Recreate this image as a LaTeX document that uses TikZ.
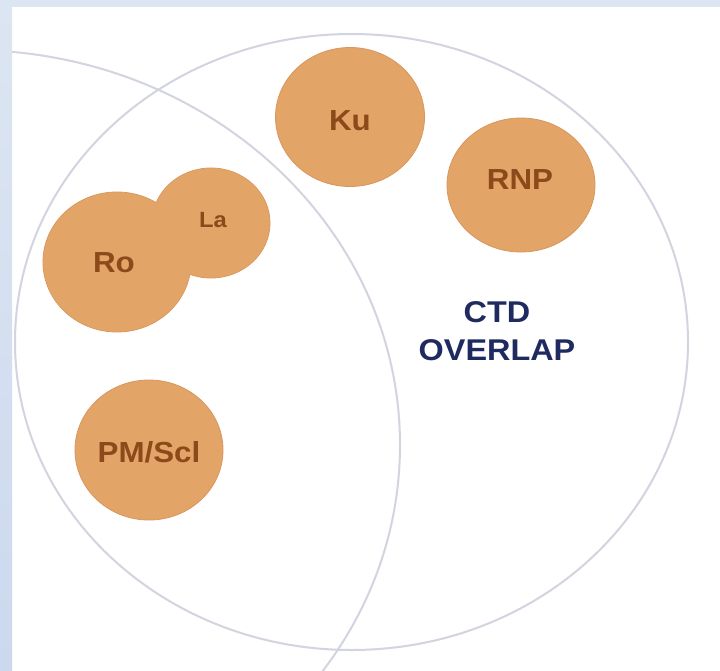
\documentclass[tikz,border=0pt]{standalone}
\usepackage{fontspec}
\setmainfont{Liberation Sans}[FakeStretch=1.08]
\usetikzlibrary{shapes.geometric}
\definecolor{bandblue}{HTML}{DCE6F2}
\definecolor{bandlow}{HTML}{CCD8EE}
\definecolor{ringgrey}{HTML}{D2D4DF}
\definecolor{blob}{HTML}{E3A468}
\definecolor{blobedge}{HTML}{D9965C}
\definecolor{blobtext}{HTML}{8C4A1A}
\definecolor{navy}{HTML}{1F2A5E}
\begin{document}
\begin{tikzpicture}[x=1pt,y=-1pt,
  ring/.style={draw=ringgrey,line width=2pt},
  blobshape/.style={ellipse,fill=blob,draw=blobedge,line width=0.8pt,inner sep=0pt},
  blobtxt/.style={text=blobtext,font=\bfseries\fontsize{29}{29}\selectfont,inner sep=0pt},
  smalltxt/.style={text=blobtext,font=\bfseries\fontsize{22}{22}\selectfont,inner sep=0pt},
  ctdtxt/.style={text=navy,font=\bfseries\fontsize{30}{38}\selectfont,align=center,inner sep=0pt}]
\useasboundingbox (0,0) rectangle (720,670);
\fill[white] (0,0) rectangle (720,670);
\fill[bandblue] (0,0) rectangle (720,7);
\shade[top color=bandblue,bottom color=bandlow] (0,0) rectangle (12,670);
% big rings
\begin{scope}
  \clip (12,7) rectangle (720,670);
  \draw[ring] (351.5,342) ellipse [x radius=336.5pt, y radius=308pt];
  \draw[ring] (-30,445) ellipse [x radius=430pt, y radius=395pt];
\end{scope}
% blobs
\node[blobshape,minimum width=149pt,minimum height=139pt] (ku) at (350,117) {};
\node[blobshape,minimum width=148pt,minimum height=134pt] (rnp) at (521,185) {};
\node[blobshape,minimum width=118pt,minimum height=110pt] (la) at (211,223) {};
\node[blobshape,minimum width=148pt,minimum height=140pt] (ro) at (117,262) {};
\node[blobshape,minimum width=148pt,minimum height=140pt] (pm) at (149,450) {};
% merge Ro and La into one shape
\fill[blob] (la.center) ellipse [x radius=58.5pt, y radius=54.5pt];
\fill[blob] (ro.center) ellipse [x radius=73.5pt, y radius=69.5pt];
% labels
\node[blobtxt] (kut) at (350,121) {Ku};
\node[blobtxt] (rnpt) at (520,180) {RNP};
\node[blobtxt] (rot) at (114,263) {Ro};
\node[smalltxt] (lat) at (213,220) {La};
\node[blobtxt] (pmt) at (149,452) {PM/Scl};
\node[ctdtxt] (ctd) at (497,331) {CTD\\OVERLAP};
\end{tikzpicture}
\end{document}
